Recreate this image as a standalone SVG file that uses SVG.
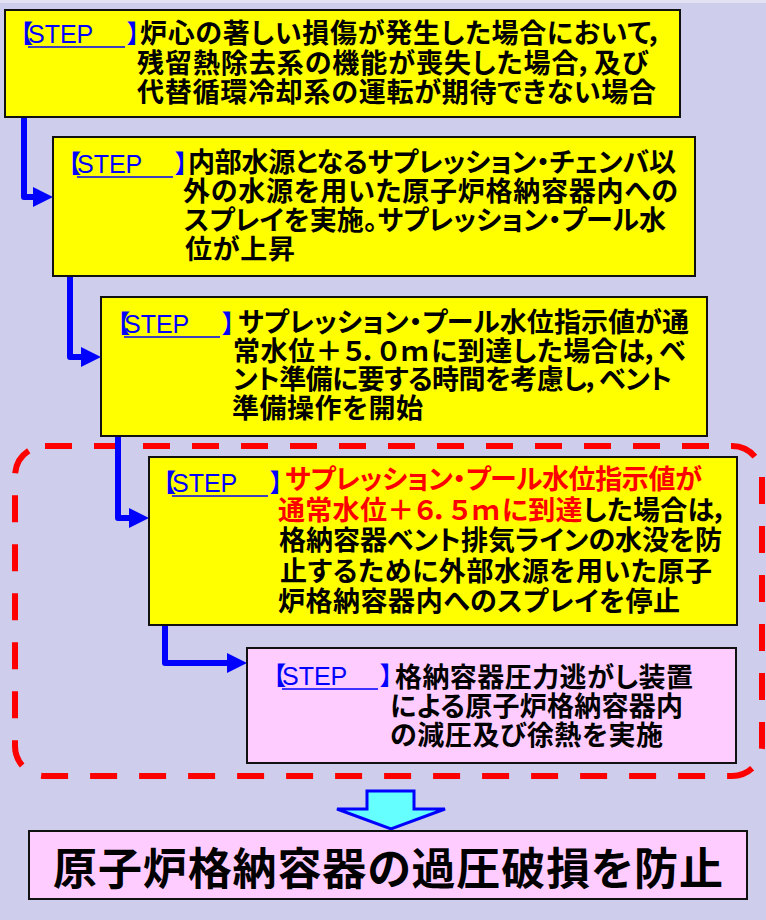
<svg xmlns="http://www.w3.org/2000/svg" width="766" height="920" viewBox="0 0 766 920">
<style>
.bg{fill:#CECEEC}
.y{fill:#FFFF00;stroke:#111;stroke-width:2}
.p{fill:#FFCCFF;stroke:#111;stroke-width:2}
.t{font-family:"Noto Sans CJK JP","Noto Sans CJK SC",sans-serif;font-weight:700;font-size:27px;fill:#000;font-feature-settings:"palt"}
.r{fill:#FF0000}
.br{font-family:"Noto Sans CJK JP",sans-serif;font-weight:700;font-size:25px;fill:#0000FF;font-feature-settings:"palt"}
.st{font-family:"Liberation Sans",Arial,sans-serif;font-weight:400;font-size:25px;fill:#0000FF}
.ul{stroke:#0000FF;stroke-width:1.6}
.con{fill:none;stroke:#0000FF;stroke-width:6;stroke-linejoin:round}
.big{font-family:"Noto Sans CJK JP",sans-serif;font-weight:700;font-size:44px;fill:#000;font-feature-settings:"palt"}
</style>
<defs>
<marker id="ah" markerUnits="userSpaceOnUse" markerWidth="22" markerHeight="22" refX="0" refY="10" orient="auto">
<path d="M0,0 L20,10 L0,20 z" fill="#0000FF"/>
</marker>
</defs>
<rect class="bg" x="0" y="0" width="766" height="920"/>
<rect x="0" y="0" width="766" height="3" fill="#E2E2F4"/>

<g id="container">
<rect x="15" y="446" width="747" height="330" rx="30" fill="none" stroke="#FF0000" stroke-width="6" stroke-dasharray="27 22"/>
</g>

<g id="connectors">
<path class="con" d="M24,117 V197 H33" marker-end="url(#ah)"/>
<path class="con" d="M70,276 V357 H81" marker-end="url(#ah)"/>
<path class="con" d="M118,436 V518 H129" marker-end="url(#ah)"/>
<path class="con" d="M165,625 V663 H227" marker-end="url(#ah)"/>
</g>

<g id="step1">
<rect class="y" x="5" y="10" width="675" height="107"/>
<line class="ul" x1="28" y1="47" x2="125" y2="47"/>
<text class="br" x="20" y="43">【<tspan class="st" x="28">STEP</tspan><tspan x="127">】</tspan></text>
<text class="t"><tspan x="140" y="43" textLength="523" lengthAdjust="spacing">炉心の著しい損傷が発生した場合において，</tspan><tspan x="137" y="72.5" textLength="511" lengthAdjust="spacing">残留熱除去系の機能が喪失した場合，及び</tspan><tspan x="137" y="102" textLength="519" lengthAdjust="spacing">代替循環冷却系の運転が期待できない場合</tspan></text>
</g>

<g id="step2">
<rect class="y" x="53" y="137" width="642" height="139"/>
<line class="ul" x1="77" y1="177" x2="173" y2="177"/>
<text class="br" x="68" y="173">【<tspan class="st" x="77">STEP</tspan><tspan x="175">】</tspan></text>
<text class="t"><tspan x="188" y="172" textLength="488" lengthAdjust="spacing">内部水源となるサプレッション・チェンバ以</tspan><tspan x="183" y="201" textLength="495" lengthAdjust="spacing">外の水源を用いた原子炉格納容器内への</tspan><tspan x="184" y="230" textLength="482" lengthAdjust="spacing">スプレイを実施。サプレッション・プール水</tspan><tspan x="185" y="259" textLength="110" lengthAdjust="spacing">位が上昇</tspan></text>
</g>

<g id="step3">
<rect class="y" x="101" y="297" width="606" height="139"/>
<line class="ul" x1="124" y1="337" x2="220" y2="337"/>
<text class="br" x="117" y="333">【<tspan class="st" x="124">STEP</tspan><tspan x="222">】</tspan></text>
<text class="t"><tspan x="238" y="332" textLength="451" lengthAdjust="spacing">サプレッション・プール水位指示値が通</tspan><tspan x="233" y="360.5" textLength="453" lengthAdjust="spacing">常水位＋５．０ｍに到達した場合は，ベ</tspan><tspan x="233" y="389" textLength="439" lengthAdjust="spacing">ント準備に要する時間を考慮し，ベント</tspan><tspan x="232" y="417.5" textLength="191" lengthAdjust="spacing">準備操作を開始</tspan></text>
</g>

<g id="step4">
<rect class="y" x="149" y="457" width="588" height="168"/>
<line class="ul" x1="172" y1="496" x2="268" y2="496"/>
<text class="br" x="163" y="492">【<tspan class="st" x="172">STEP</tspan><tspan x="270">】</tspan></text>
<text class="t"><tspan class="r" x="285" y="489" textLength="417" lengthAdjust="spacing">サプレッション・プール水位指示値が</tspan><tspan x="278" y="520" textLength="450" lengthAdjust="spacing"><tspan class="r">通常水位＋６．５ｍに到達</tspan>した場合は，</tspan><tspan x="279" y="550" textLength="443" lengthAdjust="spacing">格納容器ベント排気ラインの水没を防</tspan><tspan x="280" y="581" textLength="432" lengthAdjust="spacing">止するために外部水源を用いた原子</tspan><tspan x="278" y="611" textLength="402" lengthAdjust="spacing">炉格納容器内へのスプレイを停止</tspan></text>
</g>

<g id="step5">
<rect class="p" x="247" y="648" width="489" height="115"/>
<line class="ul" x1="282" y1="689" x2="378" y2="689"/>
<text class="br" x="273" y="685">【<tspan class="st" x="282">STEP</tspan><tspan x="380">】</tspan></text>
<text class="t"><tspan x="395" y="687" textLength="298" lengthAdjust="spacing">格納容器圧力逃がし装置</tspan><tspan x="390" y="716" textLength="293" lengthAdjust="spacing">による原子炉格納容器内</tspan><tspan x="390" y="745" textLength="273" lengthAdjust="spacing">の減圧及び徐熱を実施</tspan></text>
</g>

<g id="bigarrow">
<polygon points="367,791 414,791 414,809 445,809 391,829 337,809 367,809" fill="#66FFFF" stroke="#0000FF" stroke-width="3"/>
</g>

<g id="result">
<rect class="p" x="29" y="831" width="718" height="68"/>
<text class="big" x="53" y="885" textLength="670" lengthAdjust="spacing">原子炉格納容器の過圧破損を防止</text>
</g>
</svg>
